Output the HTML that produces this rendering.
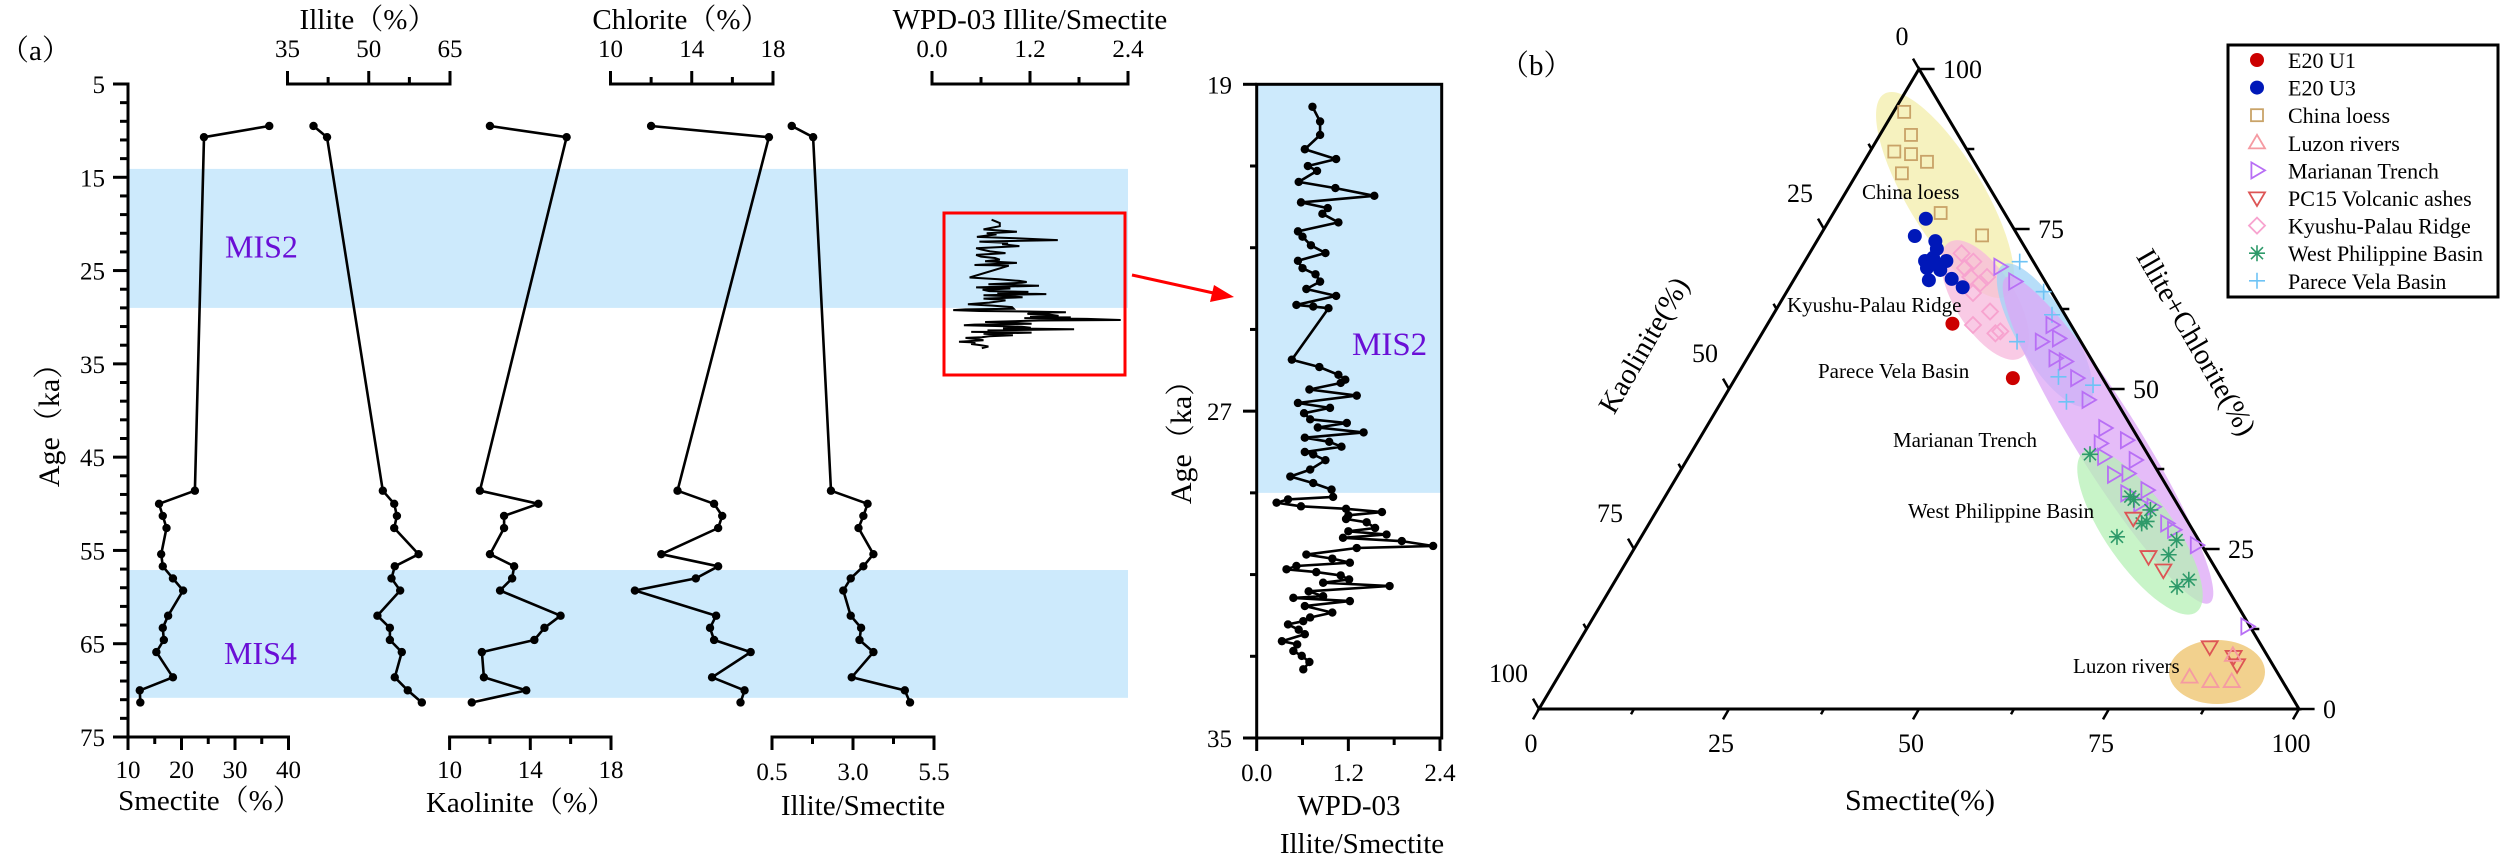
<!DOCTYPE html>
<html><head><meta charset="utf-8">
<style>
html,body{margin:0;padding:0;background:#fff;}
svg{display:block;font-family:"Liberation Serif","Noto Serif CJK SC",serif;}
</style></head>
<body>
<svg id="fig" xmlns="http://www.w3.org/2000/svg" width="2500" height="860" viewBox="0 0 2500 860">
<rect x="0" y="0" width="2500" height="860" fill="#fff"/>
<g id="left"></g>
<g id="inset"></g>
<g id="tern"></g>
</svg>
<script>
// ---------- Panel (a) data ----------
const ages = [9.5,10.7,48.6,50.0,51.3,52.6,55.4,56.7,58.0,59.3,62.0,63.3,64.6,65.9,68.6,70.0,71.3];
const smectite = [36.4,24.2,22.5,15.8,16.5,17.2,16.2,16.5,18.4,20.3,17.5,16.5,16.7,15.3,18.4,12.2,12.3];
const illite = [39.8,42.3,52.6,54.7,55.2,54.7,59.2,54.8,54.2,55.8,51.6,53.9,53.9,56.1,54.8,57.2,59.8];
const kaolinite = [12.0,15.8,11.5,14.4,12.7,12.7,12.0,13.2,13.1,12.5,15.5,14.7,14.2,11.6,11.7,13.8,11.1];
const chlorite = [12.0,17.8,13.3,15.1,15.5,15.3,12.5,15.3,14.2,11.2,15.2,14.9,15.1,16.9,15.0,16.6,16.4];
const illSme = [1.11,1.77,2.32,3.45,3.32,3.17,3.63,3.32,2.93,2.70,2.93,3.25,3.20,3.63,2.96,4.60,4.76];
const ageTicks = [5,15,25,35,45,55,65,75];
const misBands = [[14.1,29.0],[57.1,70.8]];
// WPD-03 Illite/Smectite record
const wpdAge = [19.55,19.91,20.24,20.59,20.83,21.00,21.12,21.39,21.54,21.73,21.89,22.03,22.17,22.38,22.60,22.73,22.94,23.13,23.32,23.50,23.65,23.83,24.01,24.18,24.40,24.44,24.48,25.74,25.92,26.11,26.23,26.31,26.47,26.62,26.80,26.92,27.05,27.20,27.29,27.40,27.52,27.65,27.75,27.87,28.00,28.06,28.20,28.43,28.60,28.76,28.92,29.10,29.16,29.24,29.33,29.39,29.47,29.55,29.64,29.72,29.86,29.94,30.02,30.10,30.18,30.30,30.35,30.51,30.61,30.71,30.79,30.87,30.94,31.02,31.12,31.20,31.28,31.41,31.53,31.57,31.65,31.77,31.93,32.05,32.14,32.22,32.35,32.46,32.63,32.71,32.87,32.99,33.14,33.32];
const wpdVal = [0.73,0.83,0.83,0.63,1.04,0.67,0.79,0.55,1.03,1.54,0.58,0.93,0.86,1.07,0.54,0.60,0.71,0.90,0.54,0.60,0.77,0.83,0.65,1.04,0.52,0.74,0.94,0.46,0.82,1.07,1.16,1.10,0.69,1.31,0.54,0.96,0.62,0.70,1.18,0.80,1.40,0.63,0.95,1.11,0.63,0.74,0.90,0.70,0.44,0.74,0.98,1.00,0.41,0.26,0.58,1.17,1.64,1.20,1.17,1.44,1.55,1.20,1.70,1.13,1.90,2.31,1.31,0.65,0.99,1.22,0.52,0.39,0.78,1.10,1.21,0.87,1.74,0.68,0.87,0.48,1.22,0.63,0.99,0.70,0.61,0.41,0.55,0.63,0.33,0.53,0.48,0.59,0.69,0.61];
const insetAgeTicks = [19,27,35];
const wpdTicks = ["0.0","1.2","2.4"];

// ---------- Panel (b) data (Smectite %, Illite+Chlorite %) ----------
const u1S = [24.3,36.5]; const u1IC = [60.2,51.7];
const u3S = [12.6,12.5,15.6,16.4,15.8,16.6,18.6,16.6,18.5,17.8,20.7,22.8,17.0];
const u3IC = [76.6,73.9,73.1,71.9,70.0,70.5,70.0,68.9,68.6,67.0,67.2,65.9,69.7];
const loessS = [1.4,4.1,3.2,5.6,8.3,5.9,14.1,21.3];
const loessIC = [93.3,89.7,87.1,86.7,85.5,83.7,77.5,74.0];
const luzonS = [83.1,86.2,89.0,87.1]; const luzonIC = [5.0,4.3,4.3,8.4];
const marS = [29.2,26.1,37.5,37.4,39.4,40.5,42.1,44.9,48.1,52.5,56.3,53.1,54.6,59.0,57.3,59.1,62.9,60.5,65.0,63.0,68.1,69.5,73.7,86.7];
const marIC = [66.8,69.1,60.0,57.4,57.9,54.8,54.3,51.7,48.3,43.9,42.0,41.5,39.4,38.9,36.6,36.8,34.2,33.7,31.6,32.1,29.0,28.0,25.6,12.9];
const pcS = [63.3,68.3,71.3,83.4,87.3,88.4]; const pcIC = [29.8,23.8,21.7,9.7,8.2,6.9];
const kyuS = [20.0,22.2,23.0,24.8,25.2,24.6,28.3,27.1,31.2,21.6,30.7];
const kyuIC = [71.2,69.9,67.5,66.5,67.5,65.0,62.1,60.0,59.0,68.9,58.7];
const wpbS = [52.6,61.2,64.9,65.3,62.6,70.7,70.8,75.4,74.4,64.8,61.9];
const wpbIC = [39.8,33.2,31.1,29.3,26.9,26.4,24.1,20.2,19.1,29.0,32.7];
const pvbS = [28.3,33.8,36.7,34.2,42.4,47.6,45.4];
const pvbIC = [69.9,65.2,61.6,57.4,51.9,50.6,48.0];
const ternTicks = [0,25,50,75,100];

const NS = "http://www.w3.org/2000/svg";
function mk(parent, tag, attrs, text){
  const e = document.createElementNS(NS, tag);
  for (const k in attrs) e.setAttribute(k, attrs[k]);
  if (text !== undefined) e.textContent = text;
  parent.appendChild(e);
  return e;
}
const L = document.getElementById('left');
const I = document.getElementById('inset');
const T = document.getElementById('tern');

// ----- scales panel a -----
const ageY = a => 84 + (a - 5) * (653/70);
const lin = (d0,d1,r0,r1) => v => r0 + (v-d0)/(d1-d0)*(r1-r0);
const tracks = [
  {name:'smectite', vals:smectite, sx:lin(10,40,128,288.5)},
  {name:'illite', vals:illite, sx:lin(35,65,287.5,450)},
  {name:'kaolinite', vals:kaolinite, sx:lin(10,18,449.6,611)},
  {name:'chlorite', vals:chlorite, sx:lin(10,18,610.5,773)},
  {name:'illite-smectite', vals:illSme, sx:lin(0.5,5.5,772,934)}
];
const wpdTopX = lin(0,2.4,932,1128);

// MIS bands
misBands.forEach((b,i)=>{
  const r = mk(L,'rect',{x:128,y:ageY(b[0]),width:1000,height:ageY(b[1])-ageY(b[0]),fill:'#cdeafc'});
  
  
});
let t = mk(L,'text',{x:225,y:ageY(23.6),'font-size':32,fill:'#6a0fd6'},'MIS2');
 
t = mk(L,'text',{x:224,y:ageY(67.2),'font-size':32,fill:'#6a0fd6'},'MIS4');
 

// Y axis
let ax = mk(L,'line',{x1:128,y1:ageY(5)-1.5,x2:128,y2:ageY(75)+1.5,stroke:'#000','stroke-width':3});
 
for (let a=5; a<=75; a+=2){
  const major = (a-5)%10===0;
  const tk = mk(L,'line',{x1:major?113:120,y1:ageY(a),x2:128,y2:ageY(a),stroke:'#000','stroke-width':3});
   
}
ageTicks.forEach(a=>{
  const tl = mk(L,'text',{x:105,y:ageY(a)+9,'font-size':25,'text-anchor':'end'},String(a));
   
});
t = mk(L,'text',{x:0,y:0,'font-size':30,'text-anchor':'middle',transform:'translate(59,418) rotate(-90)'},'Age（ka）');
 

// axes for tracks
function hAxis(parent, x0, x1, y, dir, ticks, majorEvery, labels, labelY, name){
  const g = mk(parent,'g',{});
   
  mk(g,'line',{x1:x0-1.5,y1:y,x2:x1+1.5,y2:y,stroke:'#000','stroke-width':3});
  for (let i=0;i<=ticks;i++){
    const x = x0 + (x1-x0)*i/ticks;
    const len = (i%majorEvery===0)?13:7;
    const tk = mk(g,'line',{x1:x,y1:y,x2:x,y2:y+dir*len,stroke:'#000','stroke-width':3});
     
  }
  labels.forEach((lb,i)=>{
    const x = x0 + (x1-x0)*i/(labels.length-1);
    const tl = mk(g,'text',{x:x,y:labelY,'font-size':25,'text-anchor':'middle'},lb);
     
  });
  return g;
}
hAxis(L,128,288.5,737,1,6,2,['10','20','30','40'],778,'smectite-axis');
hAxis(L,287.5,450,84,-1,4,2,['35','50','65'],57,'illite-axis');
hAxis(L,449.6,611,737,1,4,2,['10','14','18'],778,'kaolinite-axis');
hAxis(L,610.5,773,84,-1,4,2,['10','14','18'],57,'chlorite-axis');
hAxis(L,772,934,737,1,4,2,['0.5','3.0','5.5'],780,'illite-smectite-axis');
hAxis(L,932,1128,84,-1,4,2,wpdTicks,57,'wpd-top-axis');

[['Illite（%）',368,29,'illite-axis-title'],['Chlorite（%）',681,29,'chlorite-axis-title'],
 ['WPD-03 Illite/Smectite',1030,29,'wpd-axis-title'],['Smectite（%）',210,810,'smectite-axis-title'],
 ['Kaolinite（%）',521,812,'kaolinite-axis-title'],['Illite/Smectite',863,815,'illite-smectite-axis-title']].forEach(d=>{
  const tt = mk(L,'text',{x:d[1],y:d[2],'font-size':29,'text-anchor':'middle'},d[0]);
   
});
t = mk(L,'text',{x:0,y:60,'font-size':29},'（a）');
 

// series
tracks.forEach(tr=>{
  const pts = tr.vals.map((v,i)=>tr.sx(v).toFixed(1)+','+ageY(ages[i]).toFixed(1)).join(' ');
  const pl = mk(L,'polyline',{points:pts,fill:'none',stroke:'#000','stroke-width':2.6,'stroke-linejoin':'round'});
   
  tr.vals.forEach((v,i)=>{
    const c = mk(L,'circle',{cx:tr.sx(v),cy:ageY(ages[i]),r:4.2,fill:'#000'});
     
  });
});

// mini WPD record + red box + arrow
const miniPts = wpdVal.map((v,i)=>wpdTopX(v).toFixed(1)+','+ageY(wpdAge[i]).toFixed(1)).join(' ');
let mini = mk(L,'polyline',{points:miniPts,fill:'none',stroke:'#000','stroke-width':2});
 
let rb = mk(L,'rect',{x:944,y:213,width:181,height:162,fill:'none',stroke:'#ff0000','stroke-width':3});
 
let ar = mk(L,'line',{x1:1132,y1:275,x2:1218,y2:294,stroke:'#ff0000','stroke-width':3});
 
let ah = mk(L,'polygon',{points:'1234,297 1214,285 1210,302',fill:'#ff0000'});
 

// ----- inset -----
const iY = a => 84.3 + (a-19)*(653.7/16);
const iX = lin(0,2.4,1256.7,1440);
let ib = mk(I,'rect',{x:1256.7,y:iY(19),width:185,height:iY(29.0)-iY(19),fill:'#cdeafc'});
 
let fr = mk(I,'rect',{x:1256.7,y:84.3,width:185,height:653.7,fill:'none',stroke:'#000','stroke-width':3});
 
t = mk(I,'text',{x:1352,y:355,'font-size':33,fill:'#6a0fd6'},'MIS2');
 
for (let a=19;a<=35;a+=2){
  const major = (a-19)%8===0;
  const tk = mk(I,'line',{x1:major?1243:1250,y1:iY(a),x2:1256.7,y2:iY(a),stroke:'#000','stroke-width':3});
   
}
insetAgeTicks.forEach(a=>{
  const tl = mk(I,'text',{x:1232,y:iY(a)+9,'font-size':25,'text-anchor':'end'},String(a));
   
});
for (let i=0;i<=4;i++){
  const x = iX(i*0.6);
  const tk = mk(I,'line',{x1:x,y1:738,x2:x,y2:738+(i%2===0?13:7),stroke:'#000','stroke-width':3});
   
}
wpdTicks.forEach((lb,i)=>{
  const tl = mk(I,'text',{x:iX(i*1.2),y:781,'font-size':25,'text-anchor':'middle'},lb);
   
});
t = mk(I,'text',{x:1349,y:815,'font-size':29,'text-anchor':'middle'},'WPD-03');
 
t = mk(I,'text',{x:1362,y:853,'font-size':29,'text-anchor':'middle'},'Illite/Smectite');
 
t = mk(I,'text',{x:0,y:0,'font-size':30,'text-anchor':'middle',transform:'translate(1191,435) rotate(-90)'},'Age（ka）');
 
const wpdPts = wpdVal.map((v,i)=>iX(v).toFixed(1)+','+iY(wpdAge[i]).toFixed(1)).join(' ');
let wl = mk(I,'polyline',{points:wpdPts,fill:'none',stroke:'#000','stroke-width':2.6,'stroke-linejoin':'round'});
 
wpdVal.forEach((v,i)=>{
  const c = mk(I,'circle',{cx:iX(v),cy:iY(wpdAge[i]),r:4.2,fill:'#000'});
   
});

// ----- ternary -----
const A = {x:1919,y:69}, BL = {x:1539,y:709}, BR = {x:2299,y:709};
function tp(S, IC){ const K = 100-S-IC; return {x:(BL.x*K + BR.x*S + A.x*IC)/100, y:(BL.y*K + BR.y*S + A.y*IC)/100}; }
const ells = [
  [1945,195,118,38,59,'#f3eeaa','china-loess-zone'],
  [1985,300,68,30,58,'#f7b8dc','kyushu-zone'],
  [2045,335,82,27,59,'#9fd3f7','parece-zone'],
  [2108,440,192,32,58,'#dca6f5','marianan-zone'],
  [2140,532,98,34,55,'#b6f0b6','west-philippine-zone'],
  [2217,672,48,32,0,'#eec268','luzon-zone']
];
ells.forEach(e=>{
  const el = mk(T,'ellipse',{cx:0,cy:0,rx:e[2],ry:e[3],fill:e[5],'fill-opacity':0.75,transform:`translate(${e[0]},${e[1]}) rotate(${e[4]})`});
   
});
let tri = mk(T,'polygon',{points:`${A.x},${A.y} ${BL.x},${BL.y} ${BR.x},${BR.y}`,fill:'none',stroke:'#000','stroke-width':3,'stroke-linejoin':'miter'});
 
for (let v=0; v<=100; v+=12.5){
  const major = v%25===0; const len = major?12:6;
  let p = tp(v,0);
  let tk = mk(T,'line',{x1:p.x,y1:p.y,x2:p.x-0.5*len,y2:p.y+0.866*len,stroke:'#000','stroke-width':2.5});
   
  p = tp(0,100-v);
  tk = mk(T,'line',{x1:p.x,y1:p.y,x2:p.x-0.5*len,y2:p.y-0.866*len,stroke:'#000','stroke-width':2.5});
   
  p = tp(100-v,v);
  tk = mk(T,'line',{x1:p.x,y1:p.y,x2:p.x+len*1.3,y2:p.y,stroke:'#000','stroke-width':2.5});
   
}
ternTicks.forEach(v=>{
  let p = tp(v,0);
  let tl = mk(T,'text',{x:p.x-8,y:752,'font-size':26,'text-anchor':'middle'},String(v));
   
  p = tp(100-v,v);
  tl = mk(T,'text',{x:p.x+24,y:p.y+9,'font-size':26},String(v));
   
  if (v>0){
    p = tp(0,100-v);
    tl = mk(T,'text',{x:p.x-11,y:p.y-27,'font-size':26,'text-anchor':'end'},String(v));
     
  }
});
t = mk(T,'text',{x:1902,y:45,'font-size':26,'text-anchor':'middle'},'0');
 
t = mk(T,'text',{x:0,y:0,'font-size':29,'text-anchor':'middle',transform:'translate(1652,350) rotate(-60)'},'Kaolinite(%)');
 
t = mk(T,'text',{x:0,y:0,'font-size':29,'text-anchor':'middle',transform:'translate(2188,347) rotate(60)'},'Illite+Chlorite(%)');
 
t = mk(T,'text',{x:1920,y:810,'font-size':30,'text-anchor':'middle'},'Smectite(%)');
 
t = mk(T,'text',{x:1500,y:75,'font-size':29},'（b）');
 
[['China loess',1862,199],['Kyushu-Palau Ridge',1787,312],['Parece Vela Basin',1818,378],['Marianan Trench',1893,447],['West Philippine Basin',1908,518],['Luzon rivers',2073,673]].forEach(d=>{
  const tl = mk(T,'text',{x:d[1],y:d[2],'font-size':21},d[0]);
   
});

function marker(g, kind, x, y, col){
  const s = 8;
  if (kind==='dot') return mk(g,'circle',{cx:x,cy:y,r:7,fill:col});
  if (kind==='sq') return mk(g,'rect',{x:x-6,y:y-6,width:12,height:12,fill:'none',stroke:col,'stroke-width':1.8});
  if (kind==='up') return mk(g,'polygon',{points:`${x},${y-s} ${x-s},${y+s*0.7} ${x+s},${y+s*0.7}`,fill:'none',stroke:col,'stroke-width':1.8});
  if (kind==='right') return mk(g,'polygon',{points:`${x+s},${y} ${x-s*0.7},${y-s} ${x-s*0.7},${y+s}`,fill:'none',stroke:col,'stroke-width':1.8});
  if (kind==='down') return mk(g,'polygon',{points:`${x},${y+s} ${x-s},${y-s*0.7} ${x+s},${y-s*0.7}`,fill:'none',stroke:col,'stroke-width':1.8});
  if (kind==='dia') return mk(g,'polygon',{points:`${x},${y-s} ${x+s},${y} ${x},${y+s} ${x-s},${y}`,fill:'none',stroke:col,'stroke-width':1.8});
  if (kind==='star') return mk(g,'path',{d:`M${x-s} ${y}H${x+s}M${x} ${y-s}V${y+s}M${x-6} ${y-6}L${x+6} ${y+6}M${x-6} ${y+6}L${x+6} ${y-6}`,stroke:col,'stroke-width':1.6,fill:'none'});
  if (kind==='plus') return mk(g,'path',{d:`M${x-s} ${y}H${x+s}M${x} ${y-s}V${y+s}`,stroke:col,'stroke-width':1.6,fill:'none'});
}
const series = [
  {n:'E20 U1',k:'dot',c:'#cc0000',S:u1S,IC:u1IC,id:'e20-u1'},
  {n:'E20 U3',k:'dot',c:'#0018b8',S:u3S,IC:u3IC,id:'e20-u3'},
  {n:'China loess',k:'sq',c:'#c9a368',S:loessS,IC:loessIC,id:'china-loess'},
  {n:'Luzon rivers',k:'up',c:'#f59aa2',S:luzonS,IC:luzonIC,id:'luzon-rivers'},
  {n:'Marianan Trench',k:'right',c:'#b86ff5',S:marS,IC:marIC,id:'marianan-trench'},
  {n:'PC15 Volcanic ashes',k:'down',c:'#dd5555',S:pcS,IC:pcIC,id:'pc15-ashes'},
  {n:'Kyushu-Palau Ridge',k:'dia',c:'#f7a3cf',S:kyuS,IC:kyuIC,id:'kyushu-palau'},
  {n:'West Philippine Basin',k:'star',c:'#2e9a6a',S:wpbS,IC:wpbIC,id:'west-philippine'},
  {n:'Parece Vela Basin',k:'plus',c:'#6ec3f5',S:pvbS,IC:pvbIC,id:'parece-vela'}
];
const drawOrder = [2,6,8,4,7,5,3,1,0];
drawOrder.forEach(si=>{
  const s = series[si];
  s.S.forEach((v,i)=>{
    const p = tp(v, s.IC[i]);
    const m = marker(T, s.k, p.x, p.y, s.c);
    
    
  });
});
// legend
const lg = mk(T,'g',{});
 
mk(lg,'rect',{x:2228,y:45,width:270,height:252,fill:'#fff',stroke:'#000','stroke-width':3});
series.forEach((s,i)=>{
  const y = 60 + i*27.6;
  const m = marker(lg, s.k, 2257, y, s.c);
   
  const tl = mk(lg,'text',{x:2288,y:y+8,'font-size':22},s.n);
   
});
</script>
</body></html>
